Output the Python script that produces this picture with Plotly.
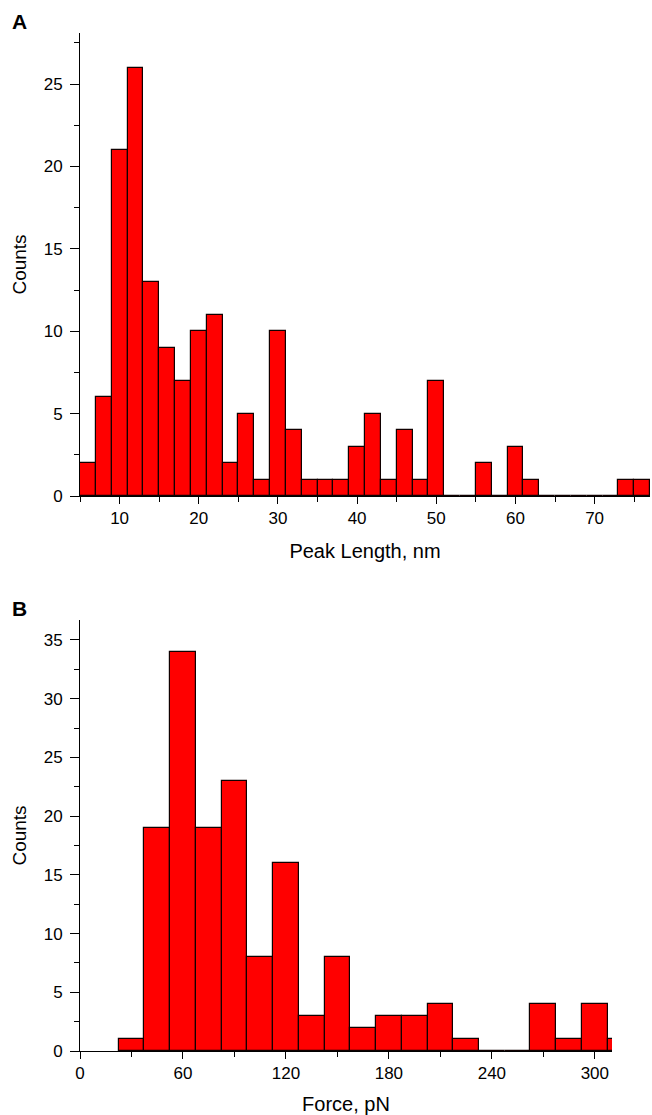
import plotly.graph_objects as go

# Panel A: peak length histogram (bin width 2 nm)
length_centers = [6, 8, 10, 12, 14, 16, 18, 20, 22, 24, 26, 28, 30, 32, 34, 36, 38, 40,
                  42, 44, 46, 48, 50, 52, 54, 56, 58, 60, 62, 64, 66, 68, 70, 72, 74, 76]
length_counts = [2, 6, 21, 26, 13, 9, 7, 10, 11, 2, 5, 1, 10, 4, 1, 1, 1, 3,
                 5, 1, 4, 1, 7, 0, 0, 2, 0, 3, 1, 0, 0, 0, 0, 0, 1, 1]
length_bin_width = 2

# Panel B: force histogram (bin width 15 pN)
force_centers = [30, 45, 60, 75, 90, 105, 120, 135, 150, 165, 180, 195, 210, 225,
                 240, 255, 270, 285, 300, 315]
force_counts = [1, 19, 34, 19, 23, 8, 16, 3, 8, 2, 3, 3, 4, 1, 0, 0, 4, 1, 4, 1]
force_bin_width = 15

W, H = 652, 1115
FONT = "Liberation Sans, Arial, Helvetica, sans-serif"

def px_x(p):
    return p / W

def px_y(p):
    return 1 - p / H

fig = go.Figure()
fig.add_trace(go.Bar(x=length_centers, y=length_counts, width=length_bin_width,
                     marker=dict(color="#FF0000", line=dict(color="#100000", width=1.2)),
                     xaxis="x", yaxis="y", showlegend=False))
fig.add_trace(go.Bar(x=force_centers, y=force_counts, width=force_bin_width,
                     marker=dict(color="#FF0000", line=dict(color="#100000", width=1.2)),
                     xaxis="x2", yaxis="y2", showlegend=False))

common_axis = dict(showgrid=False, zeroline=False, showline=True, linecolor="black",
                   linewidth=1, ticks="outside", tickcolor="black", tickwidth=1,
                   tickfont=dict(family=FONT, size=17, color="black"),
                   mirror=False, automargin=False)

xcommon = dict(ticklen=7, **common_axis)
ycommon = dict(ticklen=9, ticklabelstandoff=4, **common_axis)

fig.update_layout(
    width=W, height=H,
    margin=dict(l=0, r=0, t=0, b=0),
    paper_bgcolor="white", plot_bgcolor="white",
    bargap=0,
    font=dict(family=FONT, color="black"),
    xaxis=dict(domain=[px_x(80), px_x(650)], range=[5, 77], tick0=0, dtick=10,
               anchor="y",
               minor=dict(dtick=5, tick0=0, ticks="outside", ticklen=5, tickcolor="black"),
               title=dict(text="Peak Length, nm", font=dict(size=20), standoff=16),
               **xcommon),
    yaxis=dict(domain=[px_y(496), px_y(33)], range=[0, 28.1], tick0=0, dtick=5,
               anchor="x",
               minor=dict(dtick=2.5, tick0=0, ticks="outside", ticklen=5, tickcolor="black"),
               title=dict(text="Counts", font=dict(size=19), standoff=12),
               **ycommon),
    xaxis2=dict(domain=[px_x(80), px_x(612)], range=[0, 310], tick0=0, dtick=60,
                anchor="y2",
                minor=dict(dtick=30, tick0=0, ticks="outside", ticklen=5, tickcolor="black"),
                title=dict(text="Force, pN", font=dict(size=20), standoff=16),
                **xcommon),
    yaxis2=dict(domain=[px_y(1051), px_y(620)], range=[0, 36.7], tick0=0, dtick=5,
                anchor="x2",
                minor=dict(dtick=2.5, tick0=0, ticks="outside", ticklen=5, tickcolor="black"),
                title=dict(text="Counts", font=dict(size=19), standoff=12),
                **ycommon),
    annotations=[
        dict(text="<b>A</b>", x=px_x(10), y=px_y(35), xref="paper", yref="paper",
             xanchor="left", yanchor="bottom", showarrow=False,
             font=dict(family=FONT, size=21, color="black")),
        dict(text="<b>B</b>", x=px_x(10), y=px_y(622), xref="paper", yref="paper",
             xanchor="left", yanchor="bottom", showarrow=False,
             font=dict(family=FONT, size=21, color="black")),
    ],
)

fig.write_html("out.html",
               config={"displayModeBar": False},
               post_script="document.body.style.margin='0';document.body.style.overflow='hidden';")
